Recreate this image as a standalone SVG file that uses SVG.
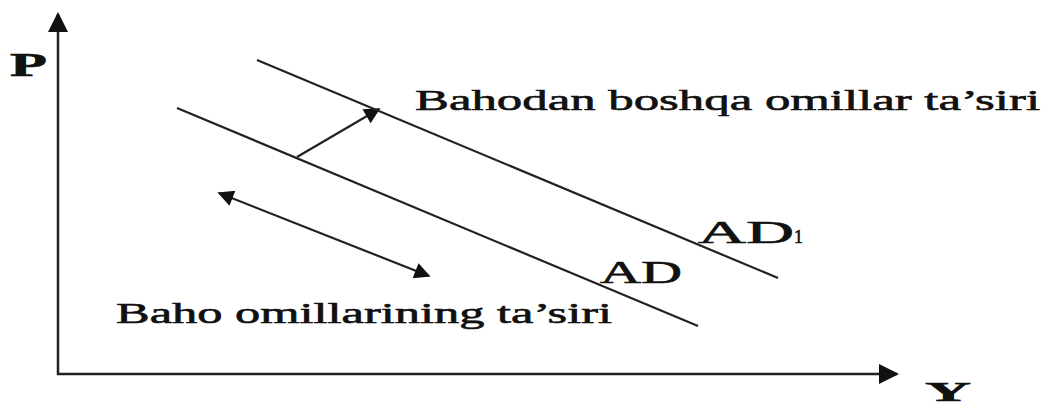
<svg xmlns="http://www.w3.org/2000/svg" width="1055" height="405" viewBox="0 0 1055 405">
<defs>
<style>
.ln{stroke:#222;stroke-width:2.2;fill:none}
.ax{stroke:#222;stroke-width:2.5;fill:none}
.t{font-family:"Liberation Serif","Times New Roman",serif;fill:#111;stroke:#111;stroke-width:0.6}
</style>
<marker id="ahs" viewBox="0 0 10 10" refX="9" refY="5" markerWidth="22" markerHeight="16" markerUnits="userSpaceOnUse" orient="auto-start-reverse"><path d="M0,0 L10,5 L0,10 z" fill="#111"/></marker>
<marker id="axh" viewBox="0 0 10 10" refX="9" refY="5" markerWidth="26" markerHeight="20" markerUnits="userSpaceOnUse" orient="auto"><path d="M0,0 L10,5 L0,10 z" fill="#111"/></marker>
</defs>
<g id="connectors">
<line class="ax" x1="58" y1="375" x2="58" y2="14" marker-end="url(#axh)"/>
<line class="ax" x1="57" y1="374" x2="897" y2="374" marker-end="url(#axh)"/>
<line class="ln" x1="297" y1="157" x2="379" y2="109" marker-end="url(#ahs)"/>
<line class="ln" x1="219" y1="193" x2="429" y2="276" marker-start="url(#ahs)" marker-end="url(#ahs)"/>
</g>
<g id="AD1">
<line class="ln" x1="257" y1="60" x2="778" y2="278"/>
<text class="t" x="698" y="243" font-size="31" textLength="96" lengthAdjust="spacingAndGlyphs">AD</text>
<text class="t" x="794" y="243" font-size="19" textLength="9" lengthAdjust="spacingAndGlyphs">1</text>
</g>
<g id="AD">
<line class="ln" x1="177" y1="108" x2="698" y2="326"/>
<text class="t" x="600" y="283" font-size="31" textLength="82" lengthAdjust="spacingAndGlyphs">AD</text>
</g>
<g id="labels">
<text class="t" x="10" y="76" font-size="33" font-weight="bold" textLength="37" lengthAdjust="spacingAndGlyphs">P</text>
<text class="t" x="925" y="401" font-size="28" font-weight="bold" textLength="46" lengthAdjust="spacingAndGlyphs">Y</text>
<text class="t" x="415" y="110" font-size="29" textLength="625" lengthAdjust="spacingAndGlyphs">Bahodan boshqa omillar ta’siri</text>
<text class="t" x="116" y="323" font-size="29" textLength="496" lengthAdjust="spacingAndGlyphs">Baho omillarining ta’siri</text>
</g>
</svg>
